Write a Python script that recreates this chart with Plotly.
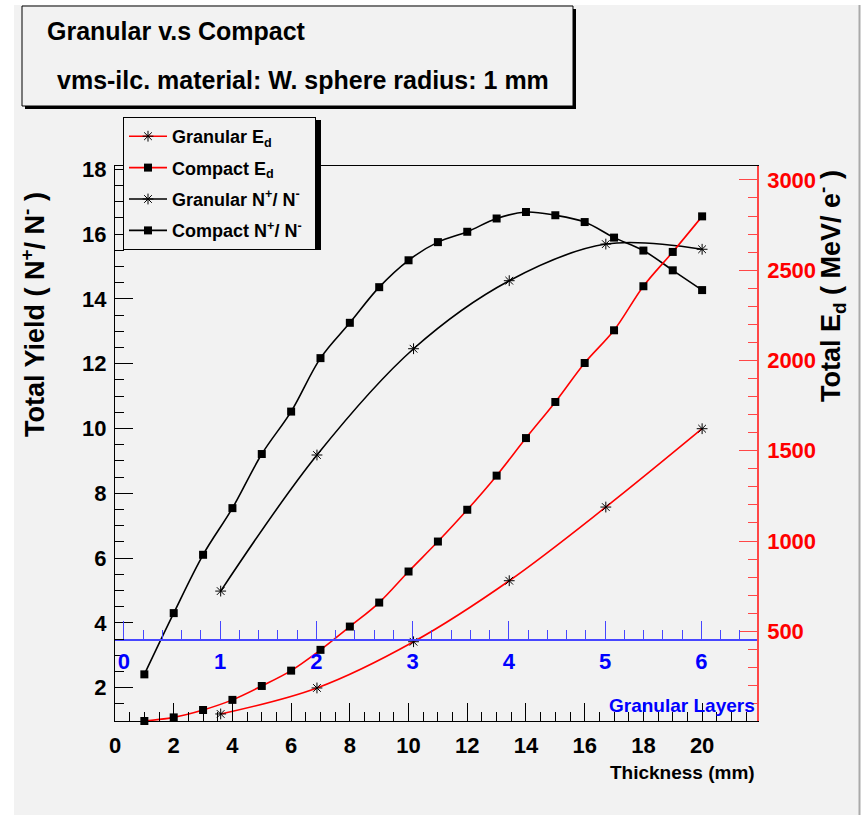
import plotly.graph_objects as go

# ---------------- data ----------------
compact_x = list(range(1, 21))
compact_yield = [2.41, 4.30, 6.10, 7.54, 9.21, 10.52, 12.17, 13.26, 14.36, 15.19,
                 15.75, 16.07, 16.48, 16.68, 16.58, 16.37, 15.89, 15.49, 14.88, 14.27]
compact_ed = [3, 23, 64, 120, 197, 282, 397, 526, 659, 831,
              997, 1173, 1362, 1570, 1770, 1986, 2167, 2411, 2601, 2798]

granular_x = [3.6, 6.88, 10.17, 13.43, 16.72, 20.0]
granular_yield = [4.98, 9.18, 12.46, 14.56, 15.69, 15.53]
granular_ed = [42, 186, 442, 780, 1188, 1622]

layer_ticks = [0, 1, 2, 3, 4, 5, 6]

# ---------------- geometry helpers ----------------
W, H = 863, 815
L, R, T, B = 115, 757, 166, 721


def px(x):
    return (x - L) / (R - L)


def py(y):
    return (B - y) / (B - T)


FONT = "Liberation Sans, Arial, Helvetica, sans-serif"
BG = "#f2f2f2"
RED_AX = "rgb(255,70,70)"
BLUE_AX = "rgb(70,70,255)"

fig = go.Figure()

fig.add_trace(go.Scatter(
    x=granular_x, y=granular_ed, yaxis="y2", name="Granular E<sub>d</sub>",
    mode="lines+markers", line=dict(color="red", width=1.6, shape="spline"),
    marker=dict(symbol="asterisk-open", size=9, color="black", line=dict(color="black", width=1)),
    cliponaxis=False, legendgroup="a"))
fig.add_trace(go.Scatter(
    x=compact_x, y=compact_ed, yaxis="y2", name="Compact E<sub>d</sub>",
    mode="lines+markers", line=dict(color="red", width=1.6, shape="spline"),
    marker=dict(symbol="square", size=8, color="black"),
    cliponaxis=False, legendgroup="b"))
fig.add_trace(go.Scatter(
    x=granular_x, y=granular_yield, yaxis="y",
    name="Granular N<sup>+</sup>/ N<sup>-</sup>&nbsp;&nbsp;",
    mode="lines+markers", line=dict(color="black", width=1.6, shape="spline"),
    marker=dict(symbol="asterisk-open", size=9, color="black", line=dict(color="black", width=1)),
    cliponaxis=False, legendgroup="c"))
fig.add_trace(go.Scatter(
    x=compact_x, y=compact_yield, yaxis="y", name="Compact N<sup>+</sup>/ N<sup>-</sup>",
    mode="lines+markers", line=dict(color="black", width=1.6, shape="spline"),
    marker=dict(symbol="square", size=8, color="black"),
    cliponaxis=False, legendgroup="d"))
# carrier for the granular-layers axis
fig.add_trace(go.Scatter(x=[], y=[], xaxis="x2", yaxis="y", showlegend=False, hoverinfo="skip"))

shapes = [
    dict(type="rect", xref="paper", yref="paper", x0=px(14), x1=px(859), y0=py(815), y1=py(5),
         fillcolor=BG, line=dict(width=0), layer="below"),
    dict(type="line", xref="paper", yref="paper", x0=px(859.5), x1=px(859.5), y0=py(815), y1=py(5),
         line=dict(color="#aaaaaa", width=2), layer="below"),
    dict(type="rect", xref="paper", yref="paper", x0=px(25), x1=px(576), y0=py(109), y1=py(9),
         fillcolor="black", line=dict(width=0), layer="below"),
    dict(type="rect", xref="paper", yref="paper", x0=px(22), x1=px(573), y0=py(106), y1=py(6),
         fillcolor=BG, line=dict(color="black", width=1), layer="below"),
    dict(type="rect", xref="paper", yref="paper", x0=px(126), x1=px(321), y0=py(250), y1=py(120),
         fillcolor="black", line=dict(width=0), layer="below"),
]

annotations = [
    dict(text="Granular v.s Compact", xref="paper", yref="paper", x=px(45), y=py(31),
         xanchor="left", yanchor="middle", showarrow=False,
         font=dict(family=FONT, size=25, color="black", weight="bold")),
    dict(text="vms-ilc. material: W. sphere radius: 1 mm", xref="paper", yref="paper",
         x=px(55), y=py(80), xanchor="left", yanchor="middle", showarrow=False,
         font=dict(family=FONT, size=25, color="black", weight="bold")),
    dict(text="Total Yield ( N<sup>+</sup>/ N<sup>-</sup> )", xref="paper", yref="paper",
         x=px(33), y=py(315), xanchor="center", yanchor="middle", textangle=-90, showarrow=False,
         font=dict(family=FONT, size=27, color="black", weight="bold")),
    dict(text="Total E<sub>d</sub> ( MeV/ e<sup>-</sup> )", xref="paper", yref="paper",
         x=px(831), y=py(286), xanchor="center", yanchor="middle", textangle=-90, showarrow=False,
         font=dict(family=FONT, size=27, color="black", weight="bold")),
    dict(text="Thickness (mm)", xref="paper", yref="paper", x=px(757), y=py(772),
         xanchor="right", yanchor="middle", showarrow=False,
         font=dict(family=FONT, size=19, color="black", weight="bold")),
    dict(text="Granular Layers", xref="paper", yref="paper", x=px(757), y=py(705),
         xanchor="right", yanchor="middle", showarrow=False,
         font=dict(family=FONT, size=19, color="blue", weight="bold")),
]

fig.update_layout(
    width=W, height=H, autosize=False,
    margin=dict(l=L, r=W - R, t=T, b=H - B, pad=0),
    paper_bgcolor="white", plot_bgcolor="rgba(0,0,0,0)",
    shapes=shapes, annotations=annotations,
    showlegend=True,
    legend=dict(x=px(123), y=py(117), xanchor="left", yanchor="top",
                bgcolor=BG, bordercolor="black", borderwidth=1,
                font=dict(family=FONT, size=18, color="black", weight="bold"),
                tracegroupgap=5, itemwidth=38),
    xaxis=dict(range=[0, 21.87], showline=True, linecolor="black", linewidth=1, mirror=True,
               ticks="inside", ticklen=18, tickcolor="black", tick0=0, dtick=2,
               minor=dict(dtick=0.5, ticklen=9, ticks="inside", tickcolor="black"),
               tickfont=dict(family=FONT, size=22, color="black", weight="bold"),
               ticklabelstandoff=5, showgrid=False, zeroline=False),
    xaxis2=dict(overlaying="x", anchor="free", position=py(640), side="bottom",
                range=[(L - 123.9) / 96.26, (R - 123.9) / 96.26],
                showline=True, linecolor=BLUE_AX, linewidth=1.5,
                ticks="inside", ticklen=18, tickcolor=BLUE_AX, tickmode="array",
                tickvals=layer_ticks, ticktext=[str(v) for v in layer_ticks],
                minor=dict(dtick=0.2, tick0=0, ticklen=9, ticks="inside", tickcolor=BLUE_AX),
                tickfont=dict(family=FONT, size=22, color="blue", weight="bold"),
                ticklabelstandoff=2, showgrid=False, zeroline=False),
    yaxis=dict(range=[0.97, 18.1], showline=True, linecolor="black", linewidth=1,
               ticks="inside", ticklen=18, tickcolor="black", tick0=0, dtick=2,
               minor=dict(dtick=0.5, ticklen=9, ticks="inside", tickcolor="black"),
               tickfont=dict(family=FONT, size=22, color="black", weight="bold"),
               ticklabelstandoff=3, showgrid=False, zeroline=False),
    yaxis2=dict(overlaying="y", side="right", anchor="x", range=[3, 3077],
                showline=True, linecolor=RED_AX, linewidth=1.5,
                ticks="inside", ticklen=18, tickcolor=RED_AX, tick0=0, dtick=500,
                minor=dict(dtick=100, ticklen=9, ticks="inside", tickcolor=RED_AX),
                tickfont=dict(family=FONT, size=22, color="red", weight="bold"),
                ticklabelstandoff=4, showgrid=False, zeroline=False),
)

fig.write_html("out.html")
